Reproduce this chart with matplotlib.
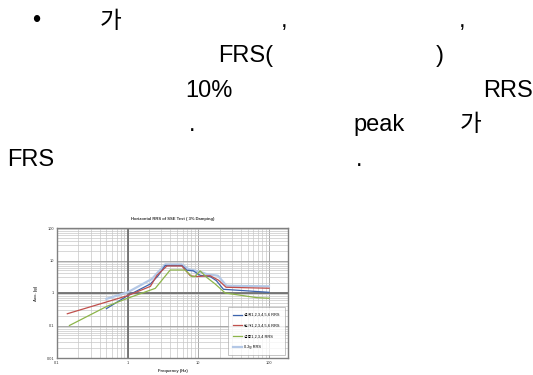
import matplotlib
matplotlib.use("Agg")
import matplotlib.pyplot as plt
from matplotlib.ticker import LogLocator, NullFormatter, FixedLocator, FixedFormatter

FAM = ["Liberation Sans", "Noto Sans CJK KR", "DejaVu Sans"]
plt.rcParams["font.family"] = FAM

W, H = 533, 375

# 본문 (렌더된 글자만 남은 상태)
text_items = [
    ("•", 32, 27.5), ("가", 100, 27.5), (",", 281, 27.5), (",", 459, 27.5),
    ("FRS(", 218, 62), (")", 436, 62),
    ("10%", 185, 96.5), ("RRS", 483, 96.5),
    (".", 189, 131), ("peak", 353, 131), ("가", 460, 131),
    ("FRS", 7, 165.5), (".", 356, 165.5),
]

# RRS 곡선 데이터 (Hz, g)
blue_f = [0.5, 1.0, 2.1, 2.7, 3.4, 5.85, 6.9, 8.5, 10.6, 14.7, 18, 22.7, 100]
blue_a = [0.33, 0.83, 1.9, 3.4, 7.0, 7.0, 5.0, 4.8, 3.5, 3.2, 2.4, 1.3, 1.05]

red_f = [0.14, 1.0, 2.1, 2.6, 3.6, 5.85, 7.7, 9.5, 14.7, 19.2, 24.7, 100]
red_a = [0.23, 0.83, 1.6, 3.5, 6.8, 6.8, 3.4, 3.2, 3.4, 2.5, 1.5, 1.4]

green_f = [0.15, 0.51, 1.0, 2.46, 4.0, 6.5, 8.1, 9.0, 10.6, 13.2, 17.3, 24, 67, 100]
green_a = [0.1, 0.39, 0.69, 1.39, 5.1, 5.1, 3.2, 3.2, 4.8, 3.0, 1.9, 1.0, 0.72, 0.69]

lblue_f = [0.5, 1.0, 2.2, 3.4, 5.85, 7.3, 10.6, 13.2, 19, 25, 100]
lblue_a = [0.66, 1.05, 2.7, 7.6, 7.6, 5.4, 4.5, 3.8, 3.4, 1.67, 1.6]

labels = ["설계1,2,3,4,5,6 RRS", "인가1,2,3,4,5,6 RRS", "검증1,2,3,4 RRS", "0.2g RRS"]

xticks = [0.1, 1, 10, 100]
xtick_labels = ["0.1", "1", "10", "100"]
yticks = [0.01, 0.1, 1, 10, 100]
ytick_labels = ["0.01", "0.1", "1", "10", "100"]

fig = plt.figure(figsize=(W / 100, H / 100), dpi=100, facecolor="white")

for s, x, y in text_items:
    fig.text(x / W, 1 - y / H, s, fontsize=17, color="black", ha="left", va="baseline",
             family=FAM)

ax = fig.add_axes([57 / W, 1 - 358 / H, 231 / W, 130 / H])
ax.set_xscale("log"); ax.set_yscale("log")
ax.set_xlim(0.1, 186); ax.set_ylim(0.01, 100)

ax.xaxis.set_major_locator(FixedLocator(xticks))
ax.xaxis.set_major_formatter(FixedFormatter(xtick_labels))
ax.yaxis.set_major_locator(FixedLocator(yticks))
ax.yaxis.set_major_formatter(FixedFormatter(ytick_labels))
ax.xaxis.set_minor_locator(LogLocator(base=10, subs=range(2, 10)))
ax.yaxis.set_minor_locator(LogLocator(base=10, subs=range(2, 10)))
ax.xaxis.set_minor_formatter(NullFormatter())
ax.yaxis.set_minor_formatter(NullFormatter())
ax.tick_params(which="both", length=0, labelsize=2.8, pad=2, colors="#333")

ax.grid(True, which="major", color="#9A9A9A", lw=0.6)
ax.grid(True, which="minor", color="#C8C8C8", lw=0.5)
ax.axhline(1, color="#707070", lw=1.3, zorder=2)
ax.axvline(1, color="#707070", lw=1.3, zorder=2)
for sp in ax.spines.values():
    sp.set_color("#808080"); sp.set_linewidth(1.0)

ax.plot(lblue_f, lblue_a, color="#B4C8E6", lw=1.6, zorder=3)
ax.plot(blue_f, blue_a, color="#3C64AE", lw=0.9, zorder=4)
ax.plot(red_f, red_a, color="#C0504D", lw=0.9, zorder=4)
ax.plot(green_f, green_a, color="#8DB54A", lw=0.9, zorder=4)

handles = [ax.lines[-3], ax.lines[-2], ax.lines[-1], ax.lines[-4]]
leg = ax.legend(handles, labels, loc="lower right", fontsize=2.8, frameon=True,
                fancybox=False, edgecolor="#999999", handlelength=2.2, handletextpad=0.5,
                labelspacing=1.75, borderpad=1.4, bbox_to_anchor=(0.995, 0.01))
leg.get_frame().set_linewidth(0.5)

ax.set_title("Horizontal RRS of SSE Test ( 3% Damping)", fontsize=3, fontweight="bold",
             color="#333", pad=6)
ax.set_xlabel("Frequency (Hz)", fontsize=3, fontweight="bold", color="#333", labelpad=3)
ax.set_ylabel("Acc. (g)", fontsize=3, fontweight="bold", color="#333", labelpad=6)

fig.savefig("out.png", dpi=100, facecolor="white")
